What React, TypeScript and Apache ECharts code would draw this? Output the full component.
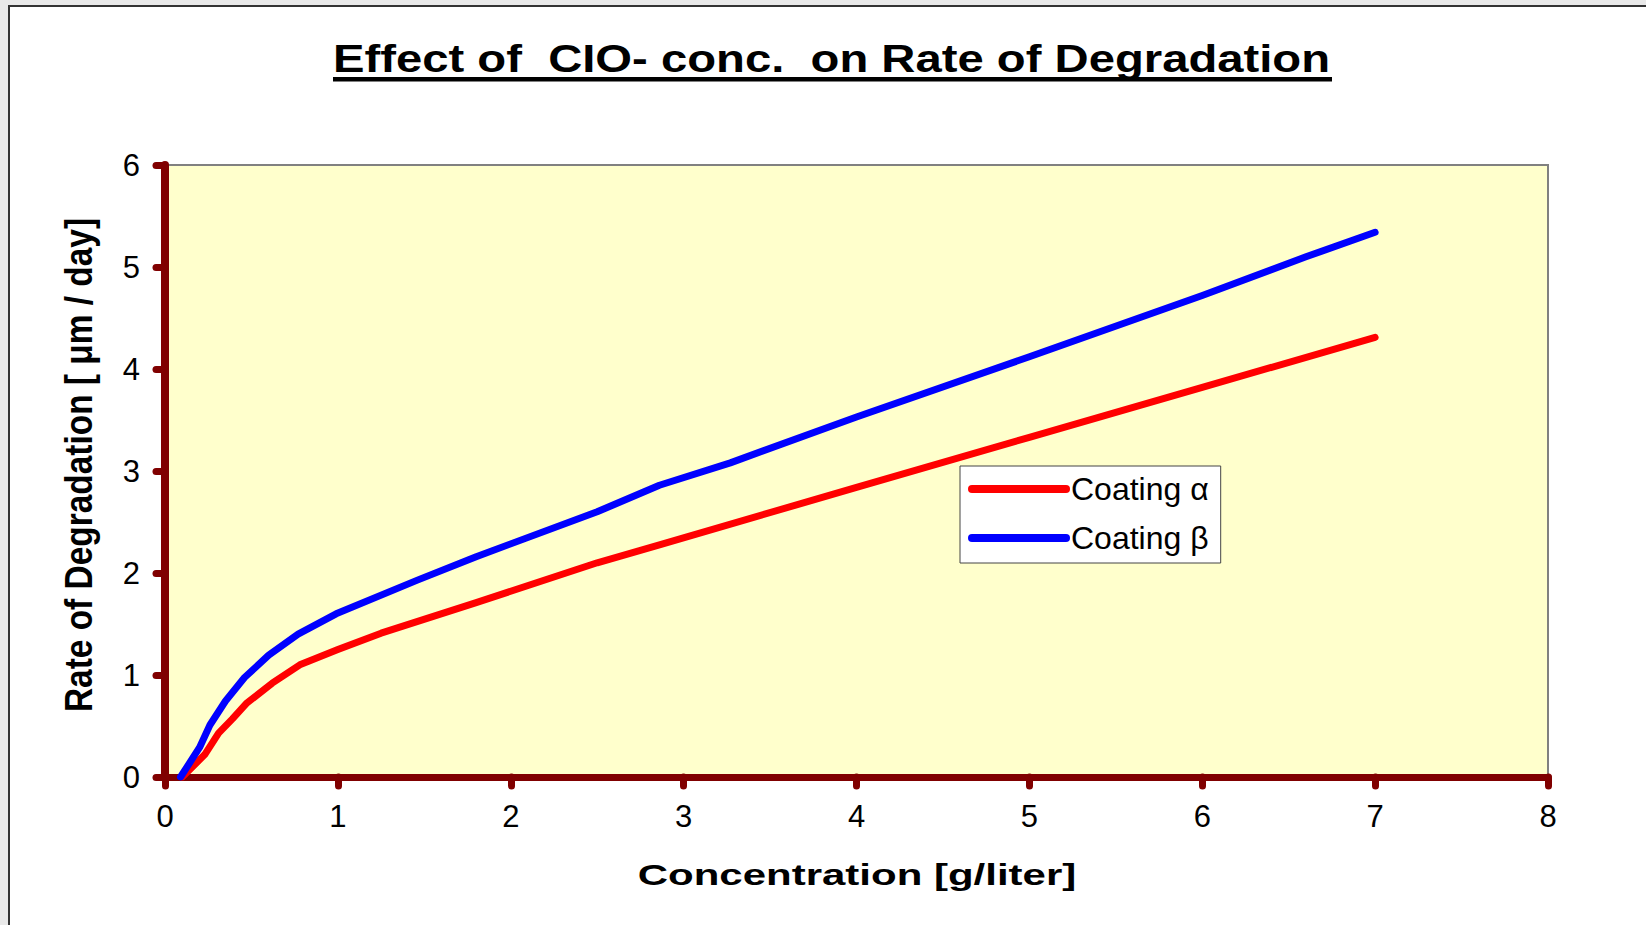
import React, { useEffect, useRef } from "react";
import * as echarts from "echarts";

const FONT = "'Liberation Sans', Arial, sans-serif";

const titleText = "Effect of  CIO- conc.  on Rate of Degradation";
const xAxisTitle = "Concentration [g/liter]";
const yAxisTitle = "Rate of Degradation [ \u03bcm / day]";
const seriesNames = ["Coating \u03b1", "Coating \u03b2"];

const xMin = 0;
const xMax = 8;
const xStep = 1;
const yMin = 0;
const yMax = 6;
const yStep = 1;

const alphaX = [0.1, 0.23, 0.31, 0.39, 0.47, 0.62, 0.78, 1.0, 1.25, 1.8, 2.5, 2.87, 4.0, 5.0, 6.0, 7.0];
const alphaY = [0, 0.22, 0.43, 0.57, 0.72, 0.92, 1.1, 1.25, 1.41, 1.71, 2.1, 2.28, 2.84, 3.33, 3.82, 4.31];

const betaX = [0.09, 0.2, 0.26, 0.35, 0.46, 0.6, 0.77, 0.99, 1.46, 1.8, 2.5, 2.86, 3.27, 4.0, 5.0, 6.0, 6.6, 7.0];
const betaY = [0, 0.29, 0.51, 0.745, 0.975, 1.195, 1.4, 1.6, 1.93, 2.16, 2.6, 2.86, 3.08, 3.53, 4.12, 4.72, 5.1, 5.34];

const seriesColors = ["#ff0000", "#0000ff"];

export default function App() {
  const ref = useRef<HTMLDivElement>(null);

  useEffect(() => {
    if (!ref.current) return;
    const chart = echarts.init(ref.current, null, { renderer: "svg", width: 1646, height: 925 });
    const axisRed = "#800000";
    const makeSeries = (name: string, xs: number[], ys: number[], color: string) => ({
      name,
      type: "line",
      symbol: "none",
      smooth: false,
      data: xs.map((x, i) => [x, ys[i]]),
      lineStyle: { color, width: 7, cap: "round", join: "round" },
      itemStyle: { color },
    });
    chart.setOption({
      animation: false,
      grid: {
        left: 165,
        top: 165,
        right: 98,
        bottom: 148,
        show: true,
        backgroundColor: "#ffffcc",
        borderColor: "#808080",
        borderWidth: 2,
      },
      xAxis: {
        type: "value",
        min: xMin,
        max: xMax,
        interval: xStep,
        splitLine: { show: false },
        axisLine: { show: true, lineStyle: { color: axisRed, width: 7, cap: "round" } },
        axisTick: { show: true, length: 9, lineStyle: { color: axisRed, width: 7, cap: "round" } },
        axisLabel: { fontSize: 31, color: "#000", margin: 24, fontFamily: FONT },
      },
      yAxis: {
        type: "value",
        min: yMin,
        max: yMax,
        interval: yStep,
        splitLine: { show: false },
        axisLine: { show: true, lineStyle: { color: axisRed, width: 8, cap: "round" } },
        axisTick: { show: true, length: 9, lineStyle: { color: axisRed, width: 7, cap: "round" } },
        axisLabel: { fontSize: 31, color: "#000", margin: 25, fontFamily: FONT },
      },
      legend: {
        orient: "vertical",
        left: 960,
        top: 466,
        backgroundColor: "#ffffff",
        borderColor: "#444444",
        borderWidth: 1,
        padding: [7, 12, 9, 8],
        itemWidth: 94,
        itemHeight: 32,
        itemGap: 17,
        textStyle: { fontSize: 32, color: "#000", fontFamily: FONT },
        lineStyle: { width: 8, cap: "round" },
        itemStyle: { opacity: 0 },
        data: seriesNames,
      },
      graphic: [
        {
          type: "text",
          x: 333,
          y: 59,
          scaleX: 1.243,
          style: {
            text: titleText,
            fontSize: 38,
            fontWeight: "bold",
            fontFamily: FONT,
            fill: "#000",
            align: "left",
            verticalAlign: "middle",
          },
        },
        {
          type: "rect",
          shape: { x: 333, y: 77, width: 999, height: 4.5 },
          style: { fill: "#000" },
        },
        {
          type: "text",
          x: 857,
          y: 875,
          scaleX: 1.4,
          style: {
            text: xAxisTitle,
            fontSize: 30,
            fontWeight: "bold",
            fontFamily: FONT,
            fill: "#000",
            align: "center",
            verticalAlign: "middle",
          },
        },
        {
          type: "text",
          x: 79,
          y: 465,
          rotation: Math.PI / 2,
          scaleX: 0.88,
          style: {
            text: yAxisTitle,
            fontSize: 38,
            fontWeight: "bold",
            fontFamily: FONT,
            fill: "#000",
            align: "center",
            verticalAlign: "middle",
          },
        },
      ],
      series: [
        makeSeries(seriesNames[0], alphaX, alphaY, seriesColors[0]),
        makeSeries(seriesNames[1], betaX, betaY, seriesColors[1]),
      ],
    });
    return () => chart.dispose();
  }, []);

  return (
    <div
      style={{
        position: "fixed",
        left: 0,
        top: 0,
        width: 1646,
        height: 925,
        overflow: "hidden",
        background: "#e9e9e9",
      }}
    >
      <div
        style={{
          position: "absolute",
          left: 8,
          top: 5,
          width: 1700,
          height: 1000,
          background: "#ffffff",
          border: "2px solid #333333",
          boxSizing: "border-box",
        }}
      />
      <div ref={ref} style={{ position: "absolute", left: 0, top: 0, width: 1646, height: 925 }} />
    </div>
  );
}
